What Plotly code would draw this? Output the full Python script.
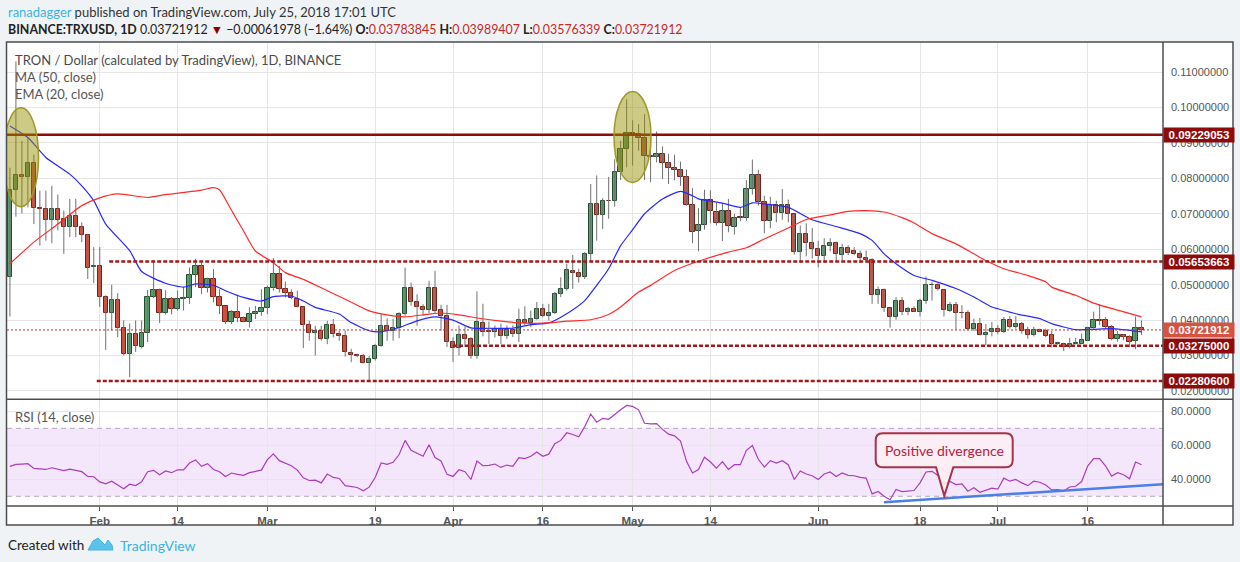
import pandas as pd
import plotly.graph_objects as go
from plotly.subplots import make_subplots

# ---- values: BINANCE:TRXUSD, 1D, 2018-01-17 .. 2018-07-25 ----
first_day = "2018-01-17"

opens = [
    0.0523, 0.0767, 0.0809, 0.0805, 0.0843, 0.0716, 0.0714, 0.0683, 0.0714, 0.0685,
    0.0664, 0.0693, 0.0662, 0.0640, 0.0551, 0.0552, 0.0465, 0.0421, 0.0457, 0.0378,
    0.0305, 0.0361, 0.0324, 0.0363, 0.0465, 0.0484, 0.0421, 0.0460, 0.0432, 0.0460,
    0.0463, 0.0526, 0.0553, 0.0490, 0.0515, 0.0466, 0.0440, 0.0396, 0.0423, 0.0406,
    0.0396, 0.0417, 0.0423, 0.0434, 0.0490, 0.0530, 0.0487, 0.0476, 0.0459, 0.0438,
    0.0387, 0.0363, 0.0370, 0.0346, 0.0387, 0.0361, 0.0354, 0.0307, 0.0302, 0.0298,
    0.0279, 0.0290, 0.0328, 0.0382, 0.0370, 0.0379, 0.0417, 0.0492, 0.0452, 0.0438,
    0.0428, 0.0490, 0.0428, 0.0412, 0.0338, 0.0322, 0.0359, 0.0347, 0.0299, 0.0392,
    0.0369, 0.0366, 0.0376, 0.0355, 0.0371, 0.0361, 0.0401, 0.0392, 0.0404, 0.0432,
    0.0413, 0.0421, 0.0474, 0.0488, 0.0538, 0.0532, 0.0521, 0.0587, 0.0728, 0.0697,
    0.0737, 0.0737, 0.0819, 0.0883, 0.0928, 0.0925, 0.0914, 0.0862, 0.0860, 0.0869,
    0.0843, 0.0828, 0.0823, 0.0805, 0.0725, 0.0651, 0.0669, 0.0739, 0.0704, 0.0673,
    0.0709, 0.0664, 0.0690, 0.0688, 0.0770, 0.0810, 0.0732, 0.0679, 0.0725, 0.0701,
    0.0725, 0.0700, 0.0592, 0.0643, 0.0618, 0.0601, 0.0581, 0.0608, 0.0618, 0.0584,
    0.0604, 0.0594, 0.0587, 0.0576, 0.0570, 0.0472, 0.0484, 0.0435, 0.0409, 0.0453,
    0.0423, 0.0431, 0.0423, 0.0453, 0.0498, 0.0500, 0.0486, 0.0426, 0.0442, 0.0421,
    0.0421, 0.0376, 0.0390, 0.0359, 0.0367, 0.0376, 0.0367, 0.0400, 0.0381, 0.0390,
    0.0371, 0.0357, 0.0373, 0.0369, 0.0357, 0.0332, 0.0334, 0.0324, 0.0334, 0.0334,
    0.0341, 0.0379, 0.0400, 0.0400, 0.0381, 0.0348, 0.0357, 0.0351, 0.0341, 0.03783845,
]
highs = [
    0.0830, 0.1130, 0.0906, 0.0915, 0.0867, 0.0765, 0.0765, 0.0779, 0.0754, 0.0709,
    0.0742, 0.0742, 0.0676, 0.0643, 0.0606, 0.0606, 0.0470, 0.0500, 0.0476, 0.0399,
    0.0390, 0.0399, 0.0399, 0.0485, 0.0568, 0.0489, 0.0484, 0.0465, 0.0484, 0.0493,
    0.0549, 0.0573, 0.0562, 0.0520, 0.0544, 0.0487, 0.0440, 0.0428, 0.0469, 0.0410,
    0.0436, 0.0440, 0.0487, 0.0497, 0.0575, 0.0553, 0.0509, 0.0487, 0.0483, 0.0438,
    0.0398, 0.0384, 0.0384, 0.0398, 0.0403, 0.0370, 0.0370, 0.0319, 0.0305, 0.0305,
    0.0299, 0.0333, 0.0417, 0.0405, 0.0403, 0.0422, 0.0548, 0.0506, 0.0473, 0.0445,
    0.0511, 0.0539, 0.0443, 0.0443, 0.0352, 0.0385, 0.0382, 0.0352, 0.0481, 0.0446,
    0.0396, 0.0385, 0.0390, 0.0385, 0.0385, 0.0432, 0.0439, 0.0427, 0.0451, 0.0446,
    0.0446, 0.0479, 0.0521, 0.0559, 0.0584, 0.0545, 0.0592, 0.0784, 0.0808, 0.0744,
    0.0804, 0.0854, 0.0906, 0.1023, 0.0964, 0.0953, 0.0981, 0.0915, 0.0932, 0.0890,
    0.0869, 0.0867, 0.0847, 0.0825, 0.0772, 0.0716, 0.0768, 0.0766, 0.0732, 0.0730,
    0.0742, 0.0700, 0.0716, 0.0795, 0.0853, 0.0824, 0.0751, 0.0748, 0.0737, 0.0770,
    0.0740, 0.0700, 0.0667, 0.0673, 0.0660, 0.0624, 0.0631, 0.0631, 0.0622, 0.0615,
    0.0611, 0.0606, 0.0596, 0.0596, 0.0575, 0.0495, 0.0489, 0.0435, 0.0465, 0.0465,
    0.0437, 0.0439, 0.0460, 0.0523, 0.0507, 0.0504, 0.0488, 0.0451, 0.0451, 0.0442,
    0.0428, 0.0404, 0.0406, 0.0389, 0.0395, 0.0386, 0.0409, 0.0411, 0.0411, 0.0395,
    0.0381, 0.0381, 0.0376, 0.0376, 0.0369, 0.0339, 0.0336, 0.0350, 0.0350, 0.0362,
    0.0381, 0.0424, 0.0445, 0.0409, 0.0386, 0.0369, 0.0360, 0.0357, 0.0410, 0.03989407,
]
lows = [
    0.0410, 0.0692, 0.0701, 0.0718, 0.0671, 0.0610, 0.0624, 0.0617, 0.0653, 0.0587,
    0.0634, 0.0634, 0.0620, 0.0516, 0.0504, 0.0437, 0.0316, 0.0371, 0.0352, 0.0300,
    0.0239, 0.0310, 0.0320, 0.0338, 0.0462, 0.0392, 0.0416, 0.0416, 0.0427, 0.0427,
    0.0446, 0.0493, 0.0473, 0.0478, 0.0450, 0.0417, 0.0389, 0.0389, 0.0394, 0.0394,
    0.0379, 0.0403, 0.0412, 0.0417, 0.0483, 0.0478, 0.0464, 0.0459, 0.0436, 0.0321,
    0.0342, 0.0300, 0.0342, 0.0332, 0.0351, 0.0342, 0.0297, 0.0281, 0.0295, 0.0278,
    0.0229, 0.0286, 0.0325, 0.0342, 0.0342, 0.0349, 0.0412, 0.0440, 0.0384, 0.0412,
    0.0420, 0.0420, 0.0370, 0.0324, 0.0282, 0.0300, 0.0324, 0.0291, 0.0291, 0.0354,
    0.0333, 0.0351, 0.0332, 0.0347, 0.0352, 0.0338, 0.0385, 0.0380, 0.0401, 0.0408,
    0.0399, 0.0418, 0.0465, 0.0483, 0.0488, 0.0506, 0.0516, 0.0566, 0.0624, 0.0657,
    0.0686, 0.0720, 0.0795, 0.0831, 0.0836, 0.0878, 0.0795, 0.0789, 0.0845, 0.0798,
    0.0784, 0.0795, 0.0779, 0.0723, 0.0617, 0.0594, 0.0655, 0.0673, 0.0667, 0.0623,
    0.0648, 0.0641, 0.0679, 0.0680, 0.0754, 0.0723, 0.0645, 0.0659, 0.0676, 0.0683,
    0.0676, 0.0585, 0.0561, 0.0580, 0.0573, 0.0549, 0.0561, 0.0594, 0.0565, 0.0569,
    0.0583, 0.0583, 0.0561, 0.0566, 0.0446, 0.0446, 0.0423, 0.0379, 0.0401, 0.0414,
    0.0414, 0.0423, 0.0410, 0.0446, 0.0455, 0.0483, 0.0410, 0.0423, 0.0373, 0.0405,
    0.0371, 0.0369, 0.0357, 0.0329, 0.0354, 0.0360, 0.0364, 0.0376, 0.0376, 0.0362,
    0.0347, 0.0354, 0.0367, 0.0352, 0.0323, 0.0330, 0.0313, 0.0320, 0.0331, 0.0332,
    0.0341, 0.0376, 0.0386, 0.0376, 0.0343, 0.0339, 0.0343, 0.0324, 0.0318, 0.03576339,
]
closes = [
    0.0767, 0.0809, 0.0803, 0.0843, 0.0716, 0.0714, 0.0683, 0.0714, 0.0683, 0.0664,
    0.0693, 0.0664, 0.0640, 0.0547, 0.0553, 0.0465, 0.0421, 0.0457, 0.0378, 0.0305,
    0.0361, 0.0326, 0.0363, 0.0465, 0.0484, 0.0421, 0.0460, 0.0432, 0.0460, 0.0463,
    0.0526, 0.0552, 0.0490, 0.0515, 0.0464, 0.0440, 0.0396, 0.0423, 0.0405, 0.0396,
    0.0417, 0.0423, 0.0434, 0.0490, 0.0530, 0.0487, 0.0476, 0.0462, 0.0438, 0.0387,
    0.0363, 0.0370, 0.0346, 0.0387, 0.0361, 0.0354, 0.0309, 0.0301, 0.0298, 0.0279,
    0.0290, 0.0328, 0.0382, 0.0370, 0.0379, 0.0417, 0.0492, 0.0452, 0.0438, 0.0428,
    0.0490, 0.0426, 0.0412, 0.0339, 0.0322, 0.0359, 0.0347, 0.0299, 0.0396, 0.0366,
    0.0367, 0.0376, 0.0355, 0.0371, 0.0361, 0.0401, 0.0392, 0.0404, 0.0432, 0.0413,
    0.0421, 0.0474, 0.0488, 0.0542, 0.0532, 0.0521, 0.0587, 0.0728, 0.0697, 0.0735,
    0.0735, 0.0819, 0.0883, 0.0928, 0.0925, 0.0914, 0.0862, 0.0860, 0.0869, 0.0843,
    0.0828, 0.0823, 0.0805, 0.0725, 0.0648, 0.0669, 0.0739, 0.0707, 0.0673, 0.0709,
    0.0665, 0.0688, 0.0688, 0.0770, 0.0810, 0.0732, 0.0679, 0.0725, 0.0701, 0.0725,
    0.0700, 0.0592, 0.0643, 0.0618, 0.0601, 0.0580, 0.0608, 0.0618, 0.0587, 0.0604,
    0.0590, 0.0587, 0.0576, 0.0569, 0.0472, 0.0484, 0.0435, 0.0409, 0.0453, 0.0423,
    0.0431, 0.0423, 0.0453, 0.0498, 0.0500, 0.0489, 0.0428, 0.0442, 0.0421, 0.0420,
    0.0376, 0.0390, 0.0359, 0.0365, 0.0376, 0.0367, 0.0400, 0.0381, 0.0390, 0.0369,
    0.0357, 0.0373, 0.0367, 0.0355, 0.0332, 0.0336, 0.0324, 0.0334, 0.0335, 0.0345,
    0.0379, 0.0400, 0.0398, 0.0381, 0.0348, 0.0357, 0.0351, 0.0338, 0.0378389, 0.03721912,
]

# MA(50) and EMA(20) read at sample days (day number counted from first_day)
ma50_day = [0, 4, 8, 12, 15, 18, 23, 26, 32, 34, 35, 37, 39, 41, 44, 46, 49, 53, 56, 60,
            64, 66, 70, 72, 75, 78, 82, 85, 90, 93, 97, 100, 102, 105, 107, 111, 115, 120, 123, 126,
            130, 133, 137, 140, 143, 146, 149, 151, 154, 158, 161, 163, 166, 170, 173, 174, 178, 181, 185, 189]
ma50_val = [0.0559, 0.0620, 0.0671, 0.0723, 0.0745, 0.0756, 0.0746, 0.0754, 0.0767, 0.0774,
            0.0768, 0.0710, 0.0652, 0.0595, 0.0562, 0.0534, 0.0515, 0.0483, 0.0459, 0.0426,
            0.0412, 0.0409, 0.0417, 0.0420, 0.0415, 0.0406, 0.0397, 0.0392, 0.0392, 0.0397,
            0.0401, 0.0416, 0.0437, 0.0479, 0.0498, 0.0540, 0.0566, 0.0592, 0.0604, 0.0629,
            0.0660, 0.0684, 0.0697, 0.0707, 0.0709, 0.0705, 0.0689, 0.0674, 0.0644, 0.0615,
            0.0587, 0.0568, 0.0545, 0.0526, 0.0508, 0.0493, 0.0470, 0.0448, 0.0428, 0.0409]

ema20_day = [0, 3, 6, 10, 12, 14, 16, 20, 22, 26, 29, 31, 34, 36, 39, 42, 44, 47, 49, 51,
             55, 57, 60, 62, 65, 68, 71, 74, 77, 80, 84, 87, 90, 93, 96, 98, 100, 102, 104, 106,
             109, 112, 114, 115, 119, 122, 124, 126, 130, 134, 138, 142, 144, 146, 148, 151, 154, 158, 161, 164,
             165, 168, 172, 174, 178, 181, 184, 189]
ema20_val = [0.0948, 0.0915, 0.0859, 0.0812, 0.0779, 0.0737, 0.0671, 0.0596, 0.0537, 0.0504,
             0.0493, 0.0502, 0.0498, 0.0483, 0.0464, 0.0454, 0.0466, 0.0468, 0.0454, 0.0436,
             0.0417, 0.0393, 0.0370, 0.0367, 0.0379, 0.0398, 0.0409, 0.0400, 0.0378, 0.0377,
             0.0377, 0.0387, 0.0392, 0.0418, 0.0455, 0.0498, 0.0545, 0.0610, 0.0655, 0.0700,
             0.0742, 0.0763, 0.0751, 0.0742, 0.0730, 0.0718, 0.0731, 0.0728, 0.0718, 0.0683,
             0.0664, 0.0644, 0.0625, 0.0587, 0.0559, 0.0526, 0.0512, 0.0489, 0.0465, 0.0437,
             0.0432, 0.0418, 0.0404, 0.0390, 0.0373, 0.0374, 0.0376, 0.0367]

rsi14 = [
    47.6, 48.8, 49.0, 49.2, 46.4, 46.0, 45.8, 46.8, 45.8, 45.1,
    46.0, 45.1, 44.5, 41.7, 41.5, 38.5, 37.3, 38.9, 36.7, 34.4,
    37.1, 36.3, 38.5, 44.5, 45.3, 42.7, 44.9, 43.9, 45.6, 45.6,
    49.6, 51.4, 47.6, 49.2, 45.8, 44.5, 41.7, 43.7, 42.9, 42.3,
    43.9, 44.5, 45.4, 51.6, 55.0, 51.0, 49.6, 48.0, 45.4, 40.9,
    39.3, 39.5, 37.9, 43.1, 41.1, 40.5, 36.3, 35.7, 35.2, 33.2,
    35.4, 41.1, 49.6, 48.8, 50.0, 54.6, 62.9, 57.1, 55.5, 53.6,
    60.3, 52.8, 50.8, 42.9, 41.7, 45.6, 44.5, 39.9, 50.8, 48.0,
    48.2, 49.0, 47.0, 48.4, 47.6, 52.8, 52.2, 53.6, 56.1, 53.6,
    54.8, 60.9, 62.9, 67.4, 66.4, 65.0, 71.0, 78.3, 73.6, 75.9,
    75.3, 78.3, 80.9, 83.5, 82.9, 80.9, 73.0, 72.6, 72.8, 69.4,
    66.6, 65.6, 62.5, 50.6, 43.7, 45.8, 53.0, 50.2, 46.6, 50.4,
    45.8, 48.6, 48.6, 57.1, 59.9, 51.8, 47.2, 51.0, 49.6, 51.0,
    48.6, 39.9, 44.9, 43.1, 42.1, 39.9, 43.1, 44.3, 41.7, 43.7,
    42.3, 42.1, 41.1, 40.7, 31.4, 32.8, 30.0, 28.0, 34.0, 32.8,
    33.2, 33.4, 37.9, 44.3, 44.7, 42.3, 37.3, 38.7, 36.9, 37.3,
    33.0, 35.0, 32.4, 33.8, 34.8, 34.2, 40.7, 38.9, 39.9, 37.9,
    36.3, 38.9, 38.3, 36.7, 33.8, 34.0, 33.2, 35.5, 35.9, 38.7,
    47.8, 52.2, 52.2, 47.8, 41.9, 43.9, 42.7, 40.3, 50.2, 48.6,
]

tick_days = ["2018-02-01", "2018-02-14", "2018-03-01", "2018-03-19", "2018-04-01", "2018-04-16",
             "2018-05-01", "2018-05-14", "2018-06-01", "2018-06-18", "2018-07-01", "2018-07-16"]
tick_text = ["Feb", "14", "Mar", "19", "Apr", "16", "May", "14", "Jun", "18", "Jul", "16"]
price_ticks = [0.02, 0.03, 0.04, 0.05, 0.06, 0.07, 0.08, 0.09, 0.10, 0.11]
rsi_ticks = [40, 60, 80]

resistance = 0.09229053
range_top = 0.05653663
range_bottom = 0.03275000
march_low = 0.02280600

# ---- geometry (pixels of the 1240x562 page) ----
W, H = 1240, 562
L, R, T, B = 7, 1163, 42, 506
x_range = ["2018-01-16 12:15", "2018-07-28 14:00"]


def px(X):
    return (X - L) / (R - L)


def py(Y):
    return (B - Y) / (B - T)


days = pd.date_range(first_day, periods=len(closes), freq="D")
day_str = [d.strftime("%Y-%m-%d") for d in days]

UP_FILL, UP_EDGE = "#5c9c70", "#1f4f2e"
DN_FILL, DN_EDGE = "#d4503e", "#7a1f14"
LEVEL_RED = "#8e0b0b"
UI_FONT = "Lato, Noto Sans, sans-serif"
NUM_FONT = "Liberation Sans, Arial, sans-serif"

fig = make_subplots(rows=2, cols=1, shared_xaxes=True, vertical_spacing=0, row_heights=[0.77, 0.23])

# wicks
wick_x, wick_y = [], []
for d, lo, hi in zip(day_str, lows, highs):
    wick_x += [d, d, None]
    wick_y += [lo, hi, None]
fig.add_trace(go.Scatter(x=wick_x, y=wick_y, mode="lines", line=dict(color="#707070", width=1),
                         hoverinfo="skip"), row=1, col=1)

# bodies
up = [c >= o for o, c in zip(opens, closes)]
fig.add_trace(go.Bar(
    x=day_str,
    y=[abs(c - o) for o, c in zip(opens, closes)],
    base=[min(o, c) for o, c in zip(opens, closes)],
    width=0.72 * 86400000,
    marker=dict(color=[UP_FILL if u else DN_FILL for u in up],
                line=dict(color=[UP_EDGE if u else DN_EDGE for u in up], width=1)),
    hoverinfo="skip",
), row=1, col=1)

fig.add_trace(go.Scatter(x=[day_str[i] for i in ema20_day], y=ema20_val, mode="lines",
                         line=dict(color="#2626ff", width=1.2, shape="spline", smoothing=0.6)), row=1, col=1)
fig.add_trace(go.Scatter(x=[day_str[i] for i in ma50_day], y=ma50_val, mode="lines",
                         line=dict(color="#ff2a2a", width=1.2, shape="spline", smoothing=0.6)), row=1, col=1)

fig.add_trace(go.Scatter(x=day_str, y=rsi14, mode="lines",
                         line=dict(color="#aa3cbe", width=1.2)), row=2, col=1)

shapes = [
    # white chart card
    dict(type="rect", xref="paper", yref="paper", x0=px(6.5), x1=px(1233), y0=py(525), y1=py(42),
         fillcolor="#ffffff", line=dict(width=0), layer="below"),
    # RSI 30-70 band
    dict(type="rect", xref="x2", yref="y2", x0=x_range[0], x1=x_range[1], y0=30, y1=70,
         fillcolor="#f4e7fb", line=dict(width=0), layer="below"),
]
for lvl in (30, 70):
    shapes.append(dict(type="line", xref="x2", yref="y2", x0=x_range[0], x1=x_range[1], y0=lvl, y1=lvl,
                       line=dict(color="#b7a9bd", width=1, dash="5px,4px"), layer="between"))

# price levels
shapes.append(dict(type="line", xref="paper", yref="y", x0=0, x1=1, y0=resistance, y1=resistance,
                   line=dict(color=LEVEL_RED, width=2.5)))
for start, lvl in (("2018-02-02 14:00", range_top), ("2018-04-01 00:00", range_bottom),
                   ("2018-01-31 12:00", march_low)):
    shapes.append(dict(type="line", xref="x", yref="y", x0=start, x1=x_range[1], y0=lvl, y1=lvl,
                       line=dict(color="#a31818", width=2.5, dash="4px,2px")))
shapes.append(dict(type="line", xref="paper", yref="y", x0=0, x1=1, y0=closes[-1], y1=closes[-1],
                   line=dict(color="#b8322a", width=1, dash="2px,2px")))

# highlight ellipses
for x0, x1, y0, y1 in (("2018-01-15 21:50", "2018-01-21 18:45", 0.0720, 0.0999),
                       ("2018-04-27 21:30", "2018-05-04 01:40", 0.0788, 0.1045)):
    shapes.append(dict(type="circle", xref="x", yref="y", x0=x0, x1=x1, y0=y0, y1=y1,
                       fillcolor="rgba(150,145,0,0.48)", line=dict(color="#9e9a2a", width=1.5),
                       layer="above"))

# RSI trend line
shapes.append(dict(type="line", xref="x2", yref="y2", x0="2018-06-11 23:20", x1=x_range[1],
                   y0=26.5, y1=37.1, line=dict(color="#4a7fe6", width=2.5)))

# callout box
bx0, bx1, by0, by1, rr = 875.7, 1012.7, 433.3, 467.3, 7
pts = [("M", bx0 + rr, by0), ("L", bx1 - rr, by0), ("Q", bx1, by0, bx1, by0 + rr),
       ("L", bx1, by1 - rr), ("Q", bx1, by1, bx1 - rr, by1), ("L", 953.3, by1), ("L", 944.3, 495.7),
       ("L", 936.0, by1), ("L", bx0 + rr, by1), ("Q", bx0, by1, bx0, by1 - rr), ("L", bx0, by0 + rr),
       ("Q", bx0, by0, bx0 + rr, by0)]
path = ""
for p in pts:
    cmd, coords = p[0], p[1:]
    pairs = [f"{px(coords[i]):.5f},{py(coords[i + 1]):.5f}" for i in range(0, len(coords), 2)]
    path += cmd + " " + " ".join(pairs) + " "
shapes.append(dict(type="path", xref="paper", yref="paper", path=path + "Z",
                   fillcolor="rgba(252,238,244,0.9)", line=dict(color="#a83248", width=2), layer="above"))

# frame lines
frame = "#4d4d4d"
shapes.append(dict(type="rect", xref="paper", yref="paper", x0=px(6.5), x1=px(1233), y0=py(525), y1=py(42),
                   line=dict(color=frame, width=1.5), layer="above"))
for Y in (399.3, 506):
    shapes.append(dict(type="line", xref="paper", yref="paper", x0=px(6.5), x1=px(1233), y0=py(Y), y1=py(Y),
                       line=dict(color=frame, width=1.5), layer="above"))
shapes.append(dict(type="line", xref="paper", yref="paper", x0=px(1163), x1=px(1163), y0=py(525), y1=py(42),
                   line=dict(color=frame, width=1.5), layer="above"))

# TradingView logo
logo = [(88, 550), (93, 541), (98, 538), (102, 542), (105, 545), (108, 540), (112, 545), (113, 550)]
logo_path = "M " + " L ".join(f"{px(a):.5f},{py(b):.5f}" for a, b in logo) + " Z"
shapes.append(dict(type="path", xref="paper", yref="paper", path=logo_path,
                   fillcolor="#5bc2ec", line=dict(color="#45b3e3", width=1)))

annotations = []


def note(X, Y, text, size=13, color="#4a4a4a", family=UI_FONT, xanchor="left"):
    annotations.append(dict(xref="paper", yref="paper", x=px(X), y=py(Y), text=text, showarrow=False,
                            xanchor=xanchor, yanchor="middle", font=dict(family=family, size=size, color=color)))


red = "#c62828"
chg = closes[-1] - closes[-2]
note(6, 12, "<span style='color:#3bb3e4'>ranadagger</span> published on TradingView.com, July 25, 2018 17:01 UTC",
     size=13, color="#333333")
note(6, 30, (f"<b>BINANCE:TRXUSD, 1D</b> {closes[-1]:.8f} <span style='color:#8b0000'>▼</span> "
             f"−{abs(chg):.8f} (−{abs(chg) / closes[-2] * 100:.2f}%) "
             f"<b>O:</b><span style='color:{red}'>{opens[-1]:.8f}</span> "
             f"<b>H:</b><span style='color:{red}'>{highs[-1]:.8f}</span> "
             f"<b>L:</b><span style='color:{red}'>{lows[-1]:.8f}</span> "
             f"<b>C:</b><span style='color:{red}'>{closes[-1]:.8f}</span>"),
     size=12.4, color="#222222")
note(13, 60, "TRON / Dollar (calculated by TradingView), 1D, BINANCE", size=13, color="#4a4a4a")
note(13, 77, "MA (50, close)", size=13, color="#555555")
note(13, 94, "EMA (20, close)", size=13, color="#555555")
note(13, 417, "RSI (14, close)", size=13, color="#555555")
note(944, 450, "Positive divergence", size=14, color="#b5203f", xanchor="center")
note(6, 545, "Created with", size=13.5, color="#222222")
note(118, 545, "TradingView", size=14, color="#3bb3e4")

for lvl, bg in ((resistance, LEVEL_RED), (range_top, LEVEL_RED), (closes[-1], "#d65342"),
                (range_bottom, LEVEL_RED), (march_low, LEVEL_RED)):
    annotations.append(dict(xref="paper", yref="y", x=1, y=lvl, xanchor="left", yanchor="middle",
                            text=f"<b>{lvl:.8f}</b>", showarrow=False, bgcolor=bg, width=68, height=12,
                            borderpad=1, font=dict(family=NUM_FONT, size=11.5, color="#ffffff")))

fig.update_layout(
    width=W, height=H,
    margin=dict(l=L, r=W - R, t=T, b=H - B),
    paper_bgcolor="#f0f3f6", plot_bgcolor="#ffffff",
    showlegend=False, bargap=0,
    font=dict(family=NUM_FONT, size=11, color="#555555"),
    shapes=shapes, annotations=annotations,
)
fig.update_xaxes(type="date", range=x_range, tickvals=tick_days, showgrid=True, gridcolor="#e6e6e6",
                 zeroline=False, showline=False)
fig.update_xaxes(showticklabels=False, ticks="", row=1, col=1)
fig.update_xaxes(ticktext=tick_text, ticks="outside", ticklen=4, tickcolor="#555555",
                 tickfont=dict(family=NUM_FONT, size=11.5, color="#555555", weight="bold"), row=2, col=1)
fig.update_yaxes(side="right", showgrid=True, gridcolor="#e6e6e6", zeroline=False, showline=False,
                 ticks="", ticklabelstandoff=7, tickfont=dict(family=NUM_FONT, size=11, color="#555555"))
fig.update_yaxes(range=[0.01766, 0.11847], domain=[0.23, 1], tickvals=price_ticks,
                 ticktext=[f"{v:.8f}" for v in price_ticks], row=1, col=1)
fig.update_yaxes(range=[24.3, 87.1], domain=[0, 0.23], tickvals=rsi_ticks,
                 ticktext=[f"{v:.4f}" for v in rsi_ticks], row=2, col=1)

# the page body has a default 8px margin; drop it so the figure sits at the window's corner
fig.write_html("out.html", config={"displayModeBar": False},
               post_script="document.body.style.margin='0';document.body.style.background='#f0f3f6';")
